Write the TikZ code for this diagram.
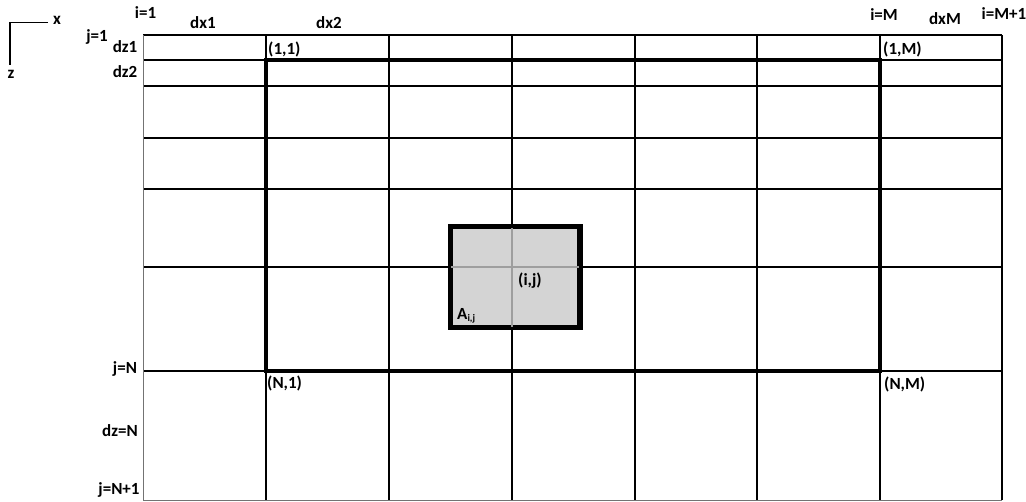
\documentclass[tikz,border=0pt]{standalone}
\usepackage{fontspec}
\setmainfont{Carlito}[BoldFont={Carlito Bold}]
\begin{document}
\begin{tikzpicture}[x=1pt,y=-1pt,
  lbl/.style={font=\fontsize{17}{17}\selectfont\bfseries, inner sep=0pt, text=black},
  gridline/.style={line width=1.5pt, black},
  borderline/.style={line width=1pt, black!55},
  thickline/.style={line width=3.5pt, black, line join=miter},
  axisline/.style={line width=1.8pt, black}]
\useasboundingbox (0,0) rectangle (1026,501);
% grid
\foreach \y in {60,86,138,189,267,371} \draw[gridline] (143,\y) -- (1002,\y);
\foreach \x in {266,389,512,635,757,880} \draw[gridline] (\x,35) -- (\x,500);
\draw[gridline] (143,35) -- (1002,35);
\draw[gridline] (1002,35) -- (1002,500);
\draw[borderline] (143,35) -- (143,500);
\draw[borderline] (143,500) -- (1002,500);
% highlighted cell
\node[draw=black, line width=3.5pt, fill=black!17, minimum width=128pt, minimum height=99pt, inner sep=0pt] (cell) at (515,277) {};
\draw[line width=1.3pt, black!38] (cell.west |- 0,267) -- (cell.east |- 0,267);
\draw[line width=1.3pt, black!38] (512,0 |- cell.north) -- (512,0 |- cell.south);
\draw[line width=3.5pt, black] (cell.north west) rectangle (cell.south east);
% thick inner domain
\draw[thickline] (266,60) rectangle (880,371);
% axes
\coordinate (xe) at (48,22.5);
\coordinate (o) at (10,22.5);
\coordinate (ze) at (10,65);
\draw[axisline] (xe) -- (o) -- (ze);
\node[lbl, anchor=center] (xl) at (57,20) {x};
\node[lbl, anchor=center] (zl) at (11,74) {z};
% labels
\node[lbl] (i1) at (145.5,13) {i=1};
\node[lbl] (dx1) at (203,23) {dx1};
\node[lbl] (dx2) at (329,23) {dx2};
\node[lbl] (j1) at (97,37) {j=1};
\node[lbl] (dz1) at (125,47) {dz1};
\node[lbl] (dz2) at (125,72) {dz2};
\node[lbl] (iM) at (884,15) {i=M};
\node[lbl] (dxM) at (945,19) {dxM};
\node[lbl] (iM1) at (1004,14) {i=M+1};
\node[lbl, anchor=west] (p11) at (268,49) {(1,1)};
\node[lbl, anchor=west] (p1M) at (883,49) {(1,M)};
\node[lbl] (jN) at (125,369) {j=N};
\node[lbl, anchor=west] (pN1) at (267,383) {(N,1)};
\node[lbl, anchor=west] (pNM) at (884,384) {(N,M)};
\node[lbl] (dzN) at (120,431) {dz=N};
\node[lbl] (jN1) at (119,490) {j=N+1};
\node[lbl, anchor=west] (pij) at (518,281) {(i,j)};
\node[lbl, anchor=west] (Aij) at (457,316) {A\textsubscript{\fontsize{10}{10}\selectfont i,j}};
\end{tikzpicture}
\end{document}
